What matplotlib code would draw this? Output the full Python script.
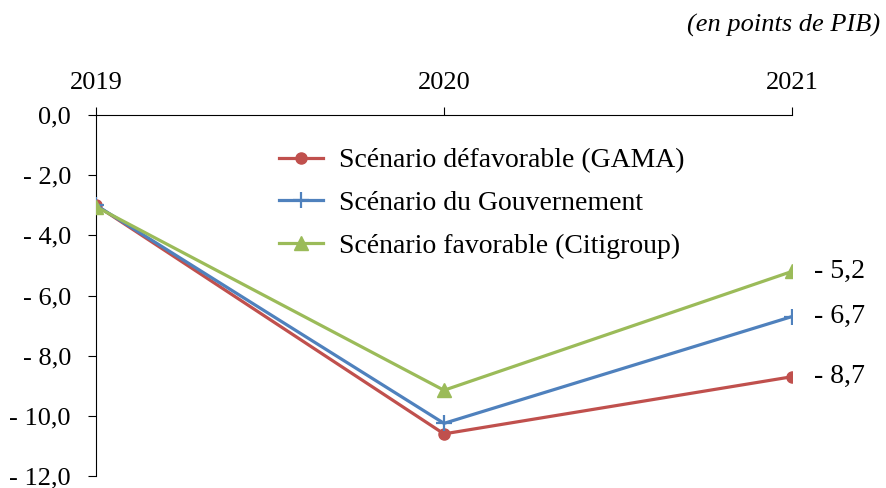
import matplotlib
matplotlib.use("Agg")
import matplotlib.pyplot as plt

years = ["2019", "2020", "2021"]
gama = [-3.0, -10.6, -8.7]
gouv = [-3.0, -10.25, -6.7]
citi = [-3.05, -9.15, -5.2]
labels = ["Scénario défavorable (GAMA)", "Scénario du Gouvernement", "Scénario favorable (Citigroup)"]
yticks = [0, -2, -4, -6, -8, -10, -12]
end_labels = ["- 8,7", "- 6,7", "- 5,2"]

plt.rcParams['font.family'] = ['Liberation Serif', 'DejaVu Serif']
FS = 19

fig = plt.figure(figsize=(8.87, 4.88), dpi=100)
ax = fig.add_axes([96/887, 1-476/488, (792-96)/887, (476-115)/488])

x = list(range(len(years)))
red, blue, green = "#C0504D", "#4F81BD", "#9BBB59"
ax.plot(x, gama, color=red, lw=2.3, marker='o', ms=8, label=labels[0], zorder=3)
ax.plot(x, gouv, color=blue, lw=2.3, marker='+', ms=12, mew=1.6, label=labels[1], zorder=3)
ax.plot(x, citi, color=green, lw=2.3, marker='^', ms=10, label=labels[2], zorder=3)

for series, lab in zip([gama, gouv, citi], end_labels):
    ax.annotate(lab, xy=(x[-1], series[-1]), xytext=(16, 0), textcoords='offset points',
                va='center', ha='left', fontsize=FS + 1)

ax.set_xlim(0, 2)
ax.set_ylim(-12, 0)
ax.xaxis.tick_top()
ax.set_xticks(x)
ax.set_xticklabels(years, fontsize=FS)
ax.set_yticks(yticks)

def fmt(v):
    s = f"{abs(v):.1f}".replace('.', ',')
    return s if v == 0 else "- " + s
ax.set_yticklabels([fmt(v) for v in yticks], fontsize=FS)

ax.tick_params(axis='x', direction='out', length=6, width=0.8, pad=9)
ax.tick_params(axis='y', direction='out', length=6, width=0.8, pad=12)
for s in ['bottom', 'right']:
    ax.spines[s].set_visible(False)
for s in ['top', 'left']:
    ax.spines[s].set_linewidth(0.8)
ax.patch.set_alpha(0)

leg = fig.legend(loc='upper left', bbox_to_anchor=(279/887, 1-148/488), frameon=False,
                 fontsize=FS + 1, handlelength=1.6, handletextpad=0.55, labelspacing=0.62,
                 borderpad=0, borderaxespad=0)

fig.text(880/887, 1-25/488, "(en points de PIB)", ha='right', va='center', fontsize=FS, style='italic')

fig.savefig("out.png", dpi=100)
